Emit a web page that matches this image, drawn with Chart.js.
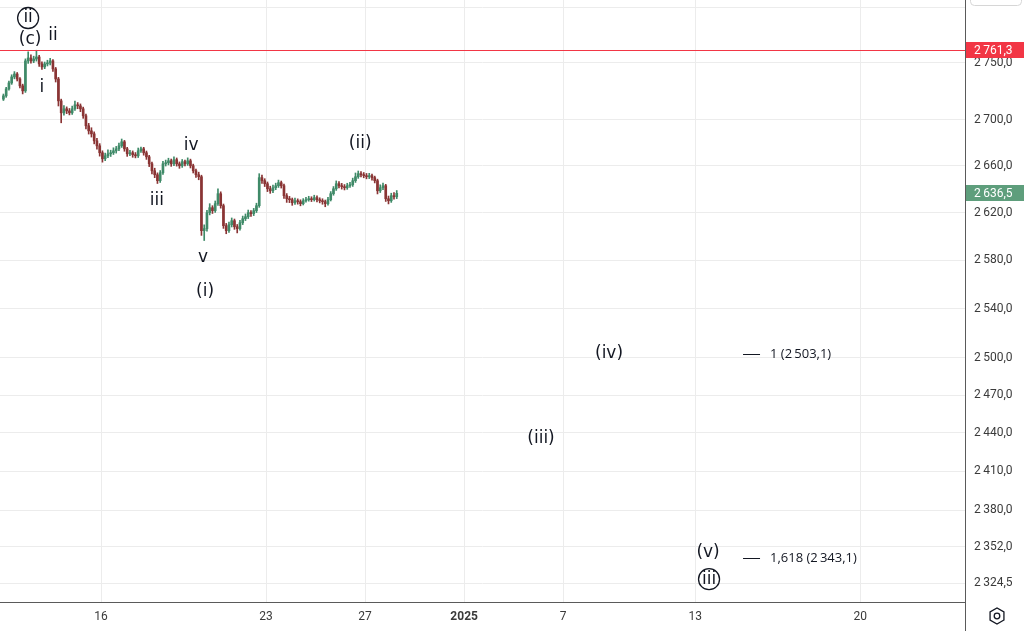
<!DOCTYPE html>
<html>
<head>
<meta charset="utf-8">
<script src="https://cdn.jsdelivr.net/npm/chart.js@4.4.1/dist/chart.umd.min.js"></script>
<style>
  html, body { margin: 0; padding: 0; background: #fff; }
  #wrap { width: 1024px; height: 631px; }
</style>
</head>
<body>
<div id="wrap"><canvas id="grafico" width="1024" height="631"></canvas></div>
<script>
// velas de 2 horas, 12 por dia de negociacion; dia 0 = 16 dic
const primerDia = -3;
const velasPorDia = 12;
const primerApertura = 2718.0;

const cierres = [
  2720.9, 2727.0, 2732.3, 2737.6, 2740.2, 2735.8, 2729.7, 2725.3, 2751.8, 2754.4, 2751.8, 2753.5,
  2755.3, 2749.1, 2746.5, 2749.1, 2750.0, 2751.8, 2744.7, 2735.8, 2716.5, 2706.0, 2709.5, 2707.7,
  2706.0, 2709.5, 2713.0, 2712.1, 2709.5, 2703.4, 2694.7, 2690.3, 2687.7, 2681.6, 2677.3, 2671.3,
  2666.1, 2668.7, 2670.4, 2671.3, 2673.0, 2674.7, 2677.3, 2680.8, 2674.7, 2670.4, 2671.3, 2669.6,
  2668.7, 2673.0, 2674.7, 2671.3, 2667.8, 2661.8, 2655.8, 2652.4, 2647.3, 2654.1, 2661.8, 2662.7,
  2664.4, 2661.8, 2665.3, 2661.8, 2660.1, 2663.6, 2661.8, 2664.4, 2660.1, 2655.8, 2652.4, 2650.7,
  2604.9, 2606.6, 2620.1, 2624.3, 2621.8, 2627.7, 2636.2, 2626.0, 2609.1, 2604.9, 2609.9, 2613.3,
  2608.2, 2606.6, 2611.6, 2615.0, 2616.7, 2620.1, 2619.3, 2621.8, 2626.0, 2649.9, 2647.3, 2644.7,
  2640.4, 2638.7, 2641.3, 2643.0, 2645.6, 2643.0, 2634.5, 2631.9, 2631.1, 2628.5, 2630.2, 2629.4,
  2627.7, 2630.2, 2631.1, 2631.9, 2631.1, 2632.8, 2631.1, 2630.2, 2629.4, 2627.7, 2631.1, 2636.2,
  2640.4, 2644.7, 2643.0, 2642.2, 2641.3, 2643.0, 2643.9, 2647.3, 2650.7, 2653.3, 2652.4, 2651.6,
  2650.7, 2651.6, 2649.9, 2647.3, 2638.7, 2641.3, 2643.0, 2631.9, 2630.2, 2634.5, 2633.6, 2636.5
];
const maximos = [
  2722.5, 2728.4, 2734.0, 2739.5, 2742.3, 2741.5, 2737.0, 2731.2, 2753.6, 2759.9, 2757.1, 2756.0,
  2761.3, 2756.8, 2751.0, 2750.8, 2752.4, 2754.1, 2753.0, 2746.0, 2737.2, 2718.0, 2712.4, 2711.2,
  2709.8, 2711.9, 2716.4, 2715.0, 2713.8, 2711.0, 2704.9, 2696.8, 2693.0, 2689.4, 2683.7, 2679.2,
  2673.0, 2671.0, 2673.8, 2673.5, 2675.6, 2676.8, 2679.6, 2683.2, 2682.0, 2676.0, 2673.4, 2672.9,
  2671.5, 2675.4, 2676.3, 2676.0, 2672.8, 2669.1, 2663.3, 2658.0, 2654.0, 2656.0, 2663.9, 2665.0,
  2666.6, 2665.9, 2667.9, 2666.8, 2663.4, 2665.5, 2665.0, 2666.9, 2665.8, 2661.5, 2657.3, 2654.6,
  2652.0, 2609.8, 2622.0, 2627.7, 2626.0, 2630.0, 2640.4, 2637.8, 2627.4, 2611.0, 2612.1, 2615.6,
  2614.7, 2610.1, 2613.5, 2617.2, 2619.0, 2622.3, 2621.9, 2623.7, 2628.1, 2653.3, 2652.1, 2649.0,
  2646.2, 2642.6, 2643.5, 2645.2, 2647.8, 2647.0, 2644.4, 2636.3, 2633.9, 2632.5, 2632.4, 2631.8,
  2631.0, 2632.0, 2633.2, 2634.0, 2633.6, 2634.9, 2634.3, 2632.7, 2631.9, 2630.8, 2633.0, 2638.0,
  2642.3, 2647.1, 2646.6, 2645.0, 2644.0, 2645.1, 2646.0, 2649.5, 2653.9, 2655.6, 2655.1, 2654.3,
  2653.5, 2653.6, 2653.0, 2651.2, 2648.6, 2643.8, 2645.3, 2644.2, 2634.2, 2636.6, 2637.2, 2638.9
];
const minimos = [
  2716.8, 2719.6, 2725.8, 2731.0, 2735.9, 2734.0, 2727.9, 2722.6, 2723.9, 2749.6, 2749.8, 2750.2,
  2751.6, 2746.9, 2744.2, 2744.9, 2747.3, 2748.2, 2742.5, 2733.1, 2712.0, 2697.3, 2703.9, 2705.3,
  2704.2, 2704.6, 2708.1, 2709.6, 2707.0, 2701.2, 2692.0, 2687.5, 2684.9, 2679.0, 2674.5, 2668.4,
  2663.2, 2664.5, 2667.0, 2668.1, 2669.8, 2671.0, 2673.2, 2675.9, 2672.6, 2668.2, 2668.8, 2667.4,
  2666.9, 2667.2, 2671.6, 2669.2, 2665.6, 2659.4, 2653.0, 2649.9, 2644.9, 2645.8, 2652.7, 2659.9,
  2660.8, 2659.6, 2660.2, 2659.8, 2657.9, 2658.7, 2659.9, 2660.4, 2658.2, 2653.9, 2650.2, 2648.1,
  2600.9, 2596.6, 2604.5, 2618.2, 2619.4, 2620.3, 2626.2, 2623.9, 2606.8, 2602.3, 2603.5, 2608.0,
  2606.0, 2603.0, 2605.2, 2610.0, 2613.4, 2615.1, 2617.0, 2617.6, 2620.2, 2624.6, 2645.0, 2642.3,
  2638.0, 2636.5, 2637.1, 2639.6, 2641.5, 2641.0, 2632.2, 2628.8, 2628.6, 2626.3, 2627.0, 2627.3,
  2625.9, 2626.6, 2628.9, 2629.8, 2629.5, 2629.9, 2629.2, 2628.4, 2627.2, 2625.1, 2626.4, 2630.0,
  2634.9, 2639.0, 2641.2, 2640.1, 2639.4, 2639.9, 2641.5, 2642.4, 2645.8, 2649.3, 2650.6, 2649.8,
  2648.9, 2649.1, 2647.8, 2645.4, 2636.0, 2637.2, 2639.7, 2629.6, 2627.5, 2628.8, 2631.5, 2632.0
];

// eje de tiempo (dias de negociacion) y eje de precios
const diasEtiqueta = [0, 5, 8, 11, 14, 18, 23];
const etiquetasX = ['16', '23', '27', '2025', '7', '13', '20'];
const preciosEje = [2800, 2750, 2700, 2660, 2620, 2580, 2540, 2500, 2470, 2440, 2410, 2380, 2352, 2324.5];

const precioMaximo = 2761.3;
const precioUltimo = 2636.5;

// conteo de ondas
const ondasTexto = ['ii', '(c)', 'ii', 'i', 'iv', 'iii', 'v', '(i)', '(ii)', '(iv)', '(iii)', '(v)', 'iii'];
const ondasGrado = ['primary', 'intermediate', 'minor', 'minor', 'minor', 'minor', 'minor', 'intermediate', 'intermediate', 'intermediate', 'intermediate', 'intermediate', 'primary'];
const ondasDia = [-2.21, -2.15, -1.46, -1.79, 2.73, 1.69, 3.09, 3.15, 7.85, 15.39, 13.33, 18.39, 18.42];
const ondasPrecio = [2790.2, 2770.5, 2774.1, 2727.9, 2677.3, 2630.2, 2582.3, 2554.0, 2679.0, 2503.1, 2435.8, 2347.8, 2327.4];

// extension de fibonacci
const fibRazones = ['1', '1,618'];
const fibPrecios = [2503.1, 2343.1];
const fibDia = 19.45;

function formatoPrecio(v) {
  const partes = v.toFixed(1).split('.');
  return partes[0].replace(/\B(?=(\d{3})+(?!\d))/g, '\u2009') + ',' + partes[1];
}

const velas = cierres.map((c, i) => {
  const apertura = i === 0 ? primerApertura : cierres[i - 1];
  return { x: primerDia + (i + 0.5) / velasPorDia, o: apertura, c: c, h: maximos[i], l: minimos[i] };
});

const verde = '#3f8a68';
const rojo = '#8a3434';

const dibujos = {
  id: 'dibujos',
  afterDatasetsDraw(chart) {
    const { ctx, scales: { x, y } } = chart;
    ctx.save();
    ctx.fillStyle = '#131722';
    ctx.strokeStyle = '#131722';
    ctx.lineWidth = 1;
    ctx.font = '13px "Open Sans"';
    ctx.textBaseline = 'middle';
    ctx.textAlign = 'left';
    fibPrecios.forEach((p, i) => {
      const py = Math.round(y.getPixelForValue(p)) + 0.5;
      const x0 = x.getPixelForValue(fibDia);
      ctx.beginPath();
      ctx.moveTo(x0, py);
      ctx.lineTo(x0 + 17, py);
      ctx.stroke();
      ctx.fillText(fibRazones[i] + ' (' + formatoPrecio(p) + ')', x0 + 27, py);
    });

    ctx.textAlign = 'center';
    ctx.font = '17px "DejaVu Sans"';
    ondasTexto.forEach((t, i) => {
      const px = x.getPixelForValue(ondasDia[i]);
      const py = y.getPixelForValue(ondasPrecio[i]);
      ctx.fillText(t, px, py);
      if (ondasGrado[i] === 'primary') {
        ctx.lineWidth = 1.3;
        ctx.beginPath();
        ctx.arc(px, py, 10.5, 0, Math.PI * 2);
        ctx.stroke();
      }
    });
    ctx.restore();
  },
  afterDraw(chart) {
    const { ctx, chartArea: a, scales: { y } } = chart;
    ctx.save();
    ctx.fillStyle = '#5a5a5a';
    ctx.fillRect(a.right, 0, 1, chart.height);
    ctx.fillRect(0, a.bottom, a.right, 1);

    // nivel del maximo
    const yr = Math.round(y.getPixelForValue(precioMaximo));
    ctx.fillStyle = '#f23645';
    ctx.fillRect(a.left, yr, a.right - a.left, 1);

    // caja recortada arriba del eje
    ctx.strokeStyle = '#d6d6d6';
    ctx.lineWidth = 1;
    ctx.beginPath();
    ctx.roundRect(970.5, -10.5, 51, 16, 4);
    ctx.stroke();

    // etiquetas de precio
    const etiqueta = (valor, color) => {
      const py = Math.round(y.getPixelForValue(valor));
      ctx.fillStyle = color;
      ctx.fillRect(a.right + 1, py - 8, chart.width - a.right - 1, 16);
      ctx.fillStyle = '#ffffff';
      ctx.font = '12px Roboto';
      ctx.textAlign = 'left';
      ctx.textBaseline = 'middle';
      ctx.fillText(formatoPrecio(valor), a.right + 9, py + 0.5);
    };
    etiqueta(precioMaximo, '#f23645');
    etiqueta(precioUltimo, '#5e9e7c');

    // icono de ajustes
    const cx = 997, cy = 616;
    ctx.strokeStyle = '#131722';
    ctx.lineWidth = 1.3;
    ctx.beginPath();
    for (let k = 0; k < 6; k++) {
      const ang = Math.PI / 6 + k * Math.PI / 3;
      const vx = cx + 8 * Math.cos(ang), vy = cy + 8 * Math.sin(ang);
      if (k === 0) ctx.moveTo(vx, vy); else ctx.lineTo(vx, vy);
    }
    ctx.closePath();
    ctx.stroke();
    ctx.beginPath();
    ctx.arc(cx, cy, 2.8, 0, Math.PI * 2);
    ctx.stroke();
    ctx.restore();
  }
};

const ctx = document.getElementById('grafico').getContext('2d');
new Chart(ctx, {
  type: 'bar',
  data: {
    datasets: [
      {
        label: 'mechas',
        data: velas.map(v => ({ x: v.x, y: [v.l, v.h] })),
        backgroundColor: velas.map(v => v.c >= v.o ? verde : rojo),
        barThickness: 1,
        grouped: false,
        order: 2
      },
      {
        label: 'cuerpos',
        data: velas.map(v => ({ x: v.x, y: [v.o, v.c] })),
        backgroundColor: velas.map(v => v.c >= v.o ? verde : rojo),
        barThickness: 2,
        minBarLength: 1,
        grouped: false,
        order: 1
      }
    ]
  },
  options: {
    responsive: false,
    animation: false,
    devicePixelRatio: 1,
    layout: { padding: 0 },
    plugins: { legend: { display: false }, tooltip: { enabled: false } },
    scales: {
      x: {
        type: 'linear',
        min: -3.062,
        max: 26.175,
        offset: false,
        afterBuildTicks: s => { s.ticks = diasEtiqueta.map(v => ({ value: v })); },
        afterFit: s => { s.height = 29; s.paddingLeft = 0; s.paddingRight = 0; },
        grid: { color: '#ececec', drawTicks: false, offset: false },
        border: { display: false },
        ticks: {
          autoSkip: false,
          maxRotation: 0,
          padding: 8,
          color: '#3a3a3a',
          font: c => ({ family: 'Roboto', size: 12, weight: c.index === 3 ? 'bold' : 'normal' }),
          callback: (v, i) => etiquetasX[i]
        }
      },
      y: {
        type: 'logarithmic',
        position: 'right',
        min: 2310.3,
        max: 2806.5,
        afterBuildTicks: s => { s.ticks = preciosEje.map(v => ({ value: v })); },
        afterFit: s => { s.width = 59; s.paddingTop = 0; s.paddingBottom = 0; },
        grid: { color: '#ececec', drawTicks: false },
        border: { display: false },
        ticks: {
          padding: 9,
          color: '#3a3a3a',
          font: { family: 'Roboto', size: 12 },
          callback: v => v >= 2800 ? '' : formatoPrecio(v)
        }
      }
    }
  },
  plugins: [dibujos]
});
</script>
</body>
</html>
